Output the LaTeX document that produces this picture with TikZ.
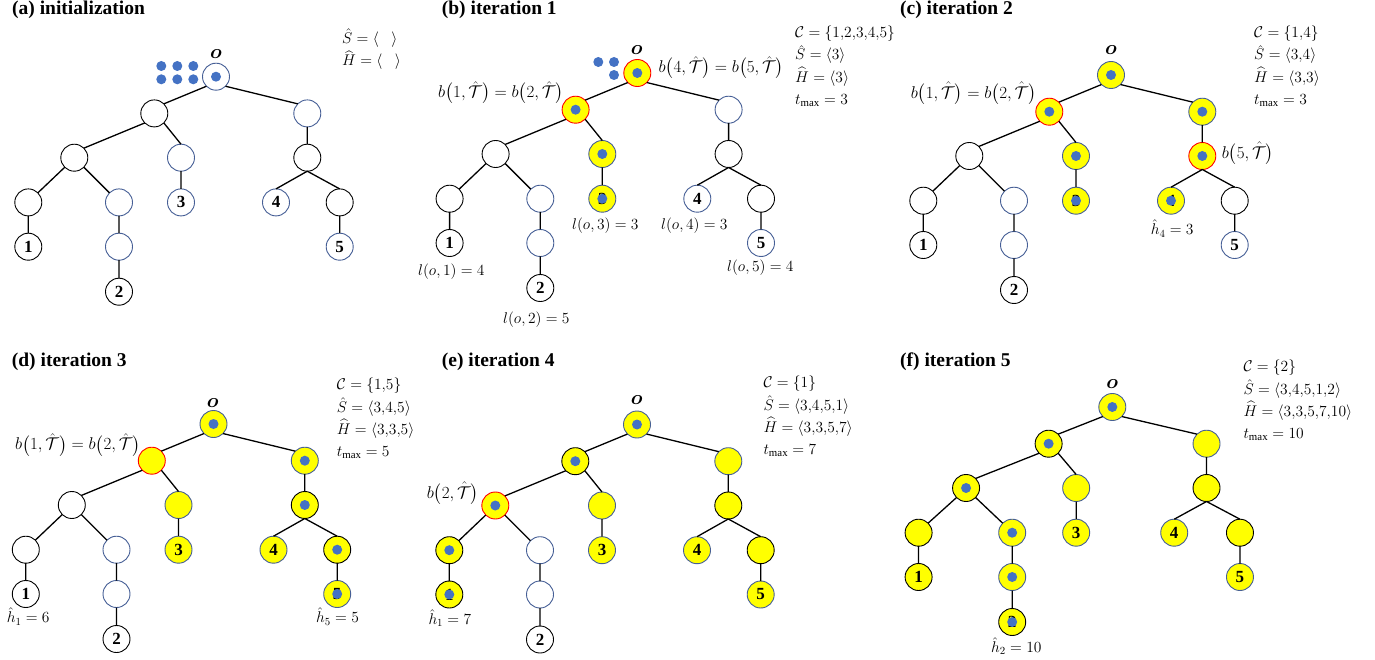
\RequirePackage{fix-cm}
\documentclass[tikz,border=0pt]{standalone}
\usepackage{amsmath}
\usepackage{fontspec}
\setmainfont{Liberation Serif}
\definecolor{tokblue}{RGB}{68,114,196}
\definecolor{nodeyel}{RGB}{255,255,0}
\definecolor{rimblue}{RGB}{70,95,150}
\newcommand\Th{\hat{\mathcal{T}}}
\newcommand\bT[1]{b\bigl(#1,\Th\bigr)}
\newcommand\cm{{,}}
\tikzset{
  vx/.style={circle,minimum size=27pt,inner sep=0pt,outer sep=0pt,line width=0.9pt,
    fill=white,font=\fontsize{17}{17}\selectfont\bfseries},
  bk/.style={draw=black},
  bl/.style={draw=rimblue},
  yel/.style={fill=nodeyel},
  hot/.style={draw=red},
  tok/.style={label={[circle,fill=tokblue,inner sep=0pt,minimum size=10pt]center:}},
  edge/.style={line width=1.3pt,black},
  st o/.style={}, st A/.style={}, st B/.style={}, st C/.style={}, st D/.style={},
  st E/.style={}, st F/.style={}, st G/.style={}, st H/.style={}, st I/.style={},
  st L1/.style={}, st L2/.style={}, st L3/.style={}, st L4/.style={}, st L5/.style={},
  title/.style={anchor=west,inner sep=0pt,font=\fontsize{19.5}{20}\selectfont\bfseries},
  eq/.style={anchor=west,inner sep=0pt,font=\fontsize{15.5}{16}\selectfont},
  % anchored at the baseline of the last line
  state/.style={anchor=base west,inner sep=0pt,align=left,font=\fontsize{15.5}{22.2}\selectfont},
  beq/.style={anchor=west,inner sep=0pt,font=\fontsize{17}{18}\selectfont},
  olab/.style={inner sep=0pt,font=\fontsize{20}{20}\selectfont},
}
% one search tree; #1 is the prefix of its node names
\newcommand\drawtree[1]{%
  \node[vx,bl,st o]  (#1o)  at (0,0) {};
  \node[vx,bk,st A]  (#1A)  at (-61.7,36.7) {};
  \node[vx,bl,st B]  (#1B)  at (91.3,36.7) {};
  \node[vx,bk,st C]  (#1C)  at (-141.7,81) {};
  \node[vx,bl,st D]  (#1D)  at (-35,81) {};
  \node[vx,bk,st E]  (#1E)  at (91.3,81) {};
  \node[vx,bk,st F]  (#1F)  at (-187.7,125.7) {};
  \node[vx,bl,st G]  (#1G)  at (-97,125.7) {};
  \node[vx,bl,st L3] (#1L3) at (-35,125.7) {3};
  \node[vx,bl,st L4] (#1L4) at (60,125.7) {4};
  \node[vx,bk,st H]  (#1H)  at (123.7,125.7) {};
  \node[vx,bk,st L1] (#1L1) at (-187.7,170) {1};
  \node[vx,bl,st I]  (#1I)  at (-97,170) {};
  \node[vx,bl,st L5] (#1L5) at (123.7,170) {5};
  \node[vx,bk,st L2] (#1L2) at (-97,215) {2};
  \draw[edge] (#1o.south west) -- (#1A.north east)
    (#1o.south east) -- (#1B.north west)
    (#1A.south west) -- (#1C.north east)
    (#1A.south east) -- (#1D.north)
    (#1B.south) -- (#1E.north)
    (#1C.south west) -- (#1F.north east)
    (#1C.south east) -- (#1G.north west)
    (#1D.south) -- (#1L3.north)
    (#1E.south) -- (#1L4.north)
    (#1E.south) -- (#1H.north)
    (#1F.south) -- (#1L1.north)
    (#1G.south) -- (#1I.north)
    (#1I.south) -- (#1L2.north)
    (#1H.south) -- (#1L5.north);
}
\begin{document}
\begin{tikzpicture}[x=1pt,y=-1pt]
\useasboundingbox (0,0) rectangle (1375,660);
\fill[white] (0,0) rectangle (1375,660);

% ---------- (a) initialization ----------
\node[title] (ta) at (12,10) {(a) initialization};
\begin{scope}[shift={(216,76.7)}, st o/.style={tok}]
  \drawtree{a}
\end{scope}
\node[olab] (ao-lab) at (216,54.3) {$\boldsymbol{o}$};
\foreach \x in {161.3,177.3,193.3}
  \foreach \y in {66,79.3}
    \fill[tokblue] (\x,\y) circle (5pt);
\node[state] (aSH) at (342,65.5)
  {$\hat{S}=\langle\hspace{0.8em}\rangle$\\ $\widehat{H}=\langle\hspace{0.8em}\rangle$};

% ---------- (b) iteration 1 ----------
\node[title] (tb) at (441.7,10) {(b) iteration 1};
\begin{scope}[shift={(637.3,73)},
  st o/.style={yel,hot,tok}, st A/.style={yel,hot,tok},
  st D/.style={yel,tok}, st L3/.style={yel,tok}]
  \drawtree{b}
\end{scope}
\node[olab] (bo-lab) at (636.7,50) {$\boldsymbol{o}$};
\fill[tokblue] (598.3,62) circle (5pt) (614,62) circle (5pt) (614,75) circle (5pt);
\node[beq] (bb45) at (658.3,67.7) {$\bT{4}=\bT{5}$};
\node[beq] (bb12) at (438,92.7) {$\bT{1}=\bT{2}$};
\node[state] (bstate) at (795,104.4)
  {$\mathcal{C}=\{1\cm2\cm3\cm4\cm5\}$\\ $\hat{S}=\langle 3\rangle$\\
   $\widehat{H}=\langle 3\rangle$\\ $t_{\max}=3$};
\node[eq] (bl3) at (572,225.3) {$l(o,3)=3$};
\node[eq] (bl4) at (661,225.3) {$l(o,4)=3$};
\node[eq] (bl1) at (418,271.7) {$l(o,1)=4$};
\node[eq] (bl5) at (727,267.7) {$l(o,5)=4$};
\node[eq] (bl2) at (503,319.3) {$l(o,2)=5$};

% ---------- (c) iteration 2 ----------
\node[title] (tc) at (900,10) {(c) iteration 2};
\begin{scope}[shift={(1111,75)},
  st o/.style={yel,tok}, st A/.style={yel,hot,tok}, st B/.style={yel,tok},
  st D/.style={yel,tok}, st L3/.style={yel,tok}, st E/.style={yel,hot,tok},
  st L4/.style={yel,tok}]
  \drawtree{c}
\end{scope}
\node[olab] (co-lab) at (1111,50) {$\boldsymbol{o}$};
\node[beq] (cb12) at (910.7,93.3) {$\bT{1}=\bT{2}$};
\node[beq] (cb5) at (1221.7,153.3) {$\bT{5}$};
\node[state] (cstate) at (1254,104.4)
  {$\mathcal{C}=\{1\cm4\}$\\ $\hat{S}=\langle 3\cm4\rangle$\\
   $\widehat{H}=\langle 3\cm3\rangle$\\ $t_{\max}=3$};
\node[eq] (ch4) at (1150.7,228.7) {$\hat{h}_4=3$};

% ---------- (d) iteration 3 ----------
\node[title] (td) at (11.7,361.7) {(d) iteration 3};
\begin{scope}[shift={(213.5,424)},
  st o/.style={yel,tok}, st A/.style={yel,hot}, st B/.style={yel,tok},
  st D/.style={yel}, st L3/.style={yel}, st E/.style={yel,tok},
  st L4/.style={yel}, st H/.style={yel,tok}, st L5/.style={yel,tok}]
  \drawtree{d}
\end{scope}
\node[olab] (do-lab) at (212.7,402.7) {$\boldsymbol{o}$};
\node[beq] (db12) at (15,445) {$\bT{1}=\bT{2}$};
\node[state] (dstate) at (336.7,456.5)
  {$\mathcal{C}=\{1\cm5\}$\\ $\hat{S}=\langle 3\cm4\cm5\rangle$\\
   $\widehat{H}=\langle 3\cm3\cm5\rangle$\\ $t_{\max}=5$};
\node[eq] (dh1) at (6.7,616.7) {$\hat{h}_1=6$};
\node[eq] (dh5) at (316,616.7) {$\hat{h}_5=5$};

% ---------- (e) iteration 4 ----------
\node[title] (te) at (441.7,361.7) {(e) iteration 4};
\begin{scope}[shift={(637,424.5)},
  st o/.style={yel,tok}, st A/.style={yel,tok}, st C/.style={yel,hot,tok},
  st F/.style={yel,tok}, st L1/.style={yel,tok}, st D/.style={yel},
  st L3/.style={yel}, st B/.style={yel}, st E/.style={yel},
  st L4/.style={yel}, st H/.style={yel}, st L5/.style={yel}]
  \drawtree{e}
\end{scope}
\node[olab] (eo-lab) at (636.7,400) {$\boldsymbol{o}$};
\node[beq] (eb2) at (426.7,493.3) {$\bT{2}$};
\node[state] (estate) at (763.3,454.5)
  {$\mathcal{C}=\{1\}$\\ $\hat{S}=\langle 3\cm4\cm5\cm1\rangle$\\
   $\widehat{H}=\langle 3\cm3\cm5\cm7\rangle$\\ $t_{\max}=7$};
\node[eq] (eh1) at (428.3,618.3) {$\hat{h}_1=7$};

% ---------- (f) iteration 5 ----------
\node[title] (tf) at (900,361.7) {(f) iteration 5};
\begin{scope}[shift={(1112.3,407)}, xscale=1.032,
  vx/.append style={fill=nodeyel},
  st o/.style={tok}, st A/.style={tok}, st C/.style={tok},
  st G/.style={tok}, st I/.style={tok}, st L2/.style={tok}]
  \drawtree{f}
\end{scope}
\node[olab] (fo-lab) at (1112.3,384.3) {$\boldsymbol{o}$};
\node[state] (fstate) at (1243.3,438.5)
  {$\mathcal{C}=\{2\}$\\ $\hat{S}=\langle 3\cm4\cm5\cm1\cm2\rangle$\\
   $\widehat{H}=\langle 3\cm3\cm5\cm7\cm10\rangle$\\ $t_{\max}=10$};
\node[eq] (fh2) at (991,646) {$\hat{h}_2=10$};
\end{tikzpicture}
\end{document}
